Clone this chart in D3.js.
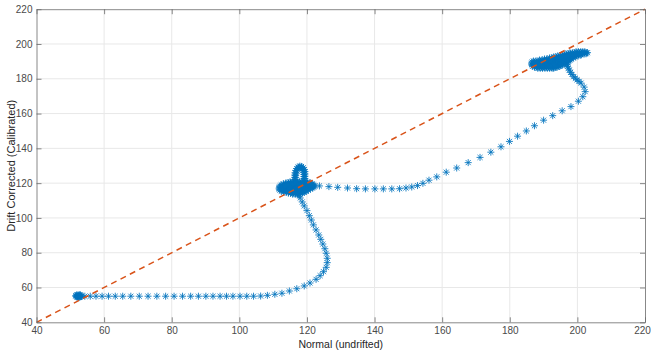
<!DOCTYPE html>
<html>
<head>
<meta charset="utf-8">
<script src="https://cdn.jsdelivr.net/npm/d3@7"></script>
<style>
  body { margin: 0; background: #fff; }
  svg { display: block; }
  text { font-family: "Liberation Sans", Arial, Helvetica, sans-serif; }
</style>
</head>
<body>
<svg id="chart" width="651" height="352"></svg>
<script>
// ---- axis ticks ----
const xTicks = [40, 60, 80, 100, 120, 140, 160, 180, 200, 220];
const yTicks = [40, 60, 80, 100, 120, 140, 160, 180, 200, 220];
const xLabel = "Normal (undrifted)";
const yLabel = "Drift Corrected (Calibrated)";

// ---- measurements: [normal, drift corrected] ----
// settled readings at the low level, by row: [corrected, [normal values]]
const startClusterRows = [
  [54.3, [52.0, 52.4, 52.8]],
  [54.8, [51.7, 52.1, 52.5, 52.9, 53.3]],
  [55.3, [51.6, 52.0, 52.4, 52.8, 53.2]],
  [55.8, [51.9, 52.3, 52.7, 53.0]]
];
// normal value ramps while the corrected value holds
const lowPlateau = [
  [54.3, 55.0], [55.9, 55.0], [57.6, 55.0], [59.4, 55.0], [61.3, 55.0], [63.3, 55.0],
  [65.5, 55.0], [67.9, 55.0], [70.4, 55.0], [73.0, 55.0], [75.6, 55.0], [78.2, 55.0],
  [80.7, 55.0], [83.2, 55.0], [85.6, 55.0], [87.9, 55.0], [90.1, 55.0], [92.2, 55.0],
  [94.3, 55.0], [96.2, 55.0], [98.1, 55.0], [100.2, 55.0], [102.2, 55.0], [104.2, 55.0],
  [106.3, 55.1], [108.3, 55.5], [110.5, 56.1], [112.6, 56.7]
];
// overshoot and recovery towards the middle level
const riseCurve = [
  [114.8, 58.0], [117.0, 59.3], [119.2, 60.9], [120.9, 62.6], [122.7, 64.7], [123.9, 66.8],
  [124.9, 69.1], [125.7, 71.6], [126.0, 74.3], [126.0, 76.8], [125.7, 79.7], [125.3, 82.3],
  [124.7, 85.0], [124.1, 87.7], [123.5, 90.2], [122.7, 93.1], [121.9, 96.0], [121.3, 98.8],
  [120.7, 101.3], [120.0, 104.2], [119.2, 106.9], [118.6, 109.2], [118.0, 111.5], [117.5, 113.3]
];
// settled readings at the middle level, by row
const midClusterRows = [
  [113.6, [115.8, 116.5, 117.2, 117.8]],
  [114.2, [114.5, 115.2, 115.9, 116.6, 117.3, 118.0, 118.6]],
  [114.8, [113.2, 113.9, 114.6, 115.3, 116.0, 116.7, 117.4, 118.1, 118.8, 119.2]],
  [115.4, [112.4, 113.1, 113.8, 114.5, 115.2, 115.9, 116.6, 117.3, 118.0, 118.7, 119.4, 119.8]],
  [116.0, [112.0, 112.7, 113.4, 114.1, 114.8, 115.5, 116.2, 116.9, 117.6, 118.3, 119.0, 119.7, 120.4]],
  [116.6, [111.8, 112.5, 113.2, 113.9, 114.6, 115.3, 116.0, 116.7, 117.4, 118.1, 118.8, 119.5, 120.2, 121.0]],
  [117.2, [111.8, 112.5, 113.2, 113.9, 114.6, 115.3, 116.0, 116.7, 117.4, 118.1, 118.8, 119.5, 120.2, 120.9, 121.6]],
  [117.8, [111.9, 112.6, 113.3, 114.0, 114.7, 115.4, 116.1, 116.8, 117.5, 118.2, 118.9, 119.6, 120.3, 121.0, 121.7, 122.0]],
  [118.4, [112.1, 112.8, 113.5, 114.2, 114.9, 115.6, 116.3, 117.0, 117.7, 118.4, 119.1, 119.8, 120.5, 121.2, 121.9, 122.2]],
  [119.0, [112.4, 113.1, 113.8, 114.5, 115.2, 115.9, 116.6, 117.3, 118.0, 118.7, 119.4, 120.1, 120.8, 121.5, 122.0]],
  [119.6, [113.0, 113.7, 114.4, 115.1, 115.8, 116.5, 117.2, 117.9, 118.6, 119.3, 120.0, 120.7, 121.6]],
  [120.2, [113.8, 114.5, 115.2, 115.9, 116.6, 117.3, 118.0, 118.7, 119.4, 120.1, 121.0]],
  [120.8, [115.0, 115.7, 116.4, 117.1, 117.8, 118.5, 119.2, 120.0]]
];
// brief excursion above the middle level
const midLoop = [
  [116.6, 121.0], [116.6, 122.2], [116.7, 123.4], [116.7, 124.6], [116.8, 125.8], [117.0, 127.0],
  [117.2, 128.0], [117.5, 128.8], [117.9, 129.2], [118.3, 129.0], [118.7, 128.3], [118.9, 127.3],
  [119.0, 126.2], [119.1, 125.0], [119.1, 123.8], [119.1, 122.6], [119.1, 121.4],
  [116.3, 122.0], [116.4, 123.3], [116.4, 124.6], [116.5, 125.9], [116.7, 127.2], [117.0, 128.4],
  [117.4, 129.3], [117.9, 129.8], [118.4, 129.6], [118.9, 128.9], [119.2, 127.8], [119.4, 126.6],
  [119.4, 125.3], [119.4, 124.0], [119.4, 122.7]
];
// climb from the middle level to the high level
const climb = [
  [123.7, 118.4], [126.5, 118.0], [129.1, 117.6], [132.0, 117.2], [134.7, 116.8], [137.3, 116.7],
  [140.1, 116.7], [142.6, 116.7], [145.1, 116.7], [147.4, 116.8], [149.3, 117.2], [151.0, 117.8],
  [152.7, 118.6], [154.3, 119.9], [156.1, 121.7], [158.4, 123.6], [161.2, 126.3], [164.3, 128.7],
  [167.7, 131.8], [171.2, 134.8], [174.4, 137.8], [177.4, 140.9], [179.9, 144.0], [182.3, 147.0],
  [184.9, 150.0], [187.3, 153.0], [190.0, 156.2], [192.7, 158.8], [195.5, 161.6], [198.1, 164.0],
  [200.3, 167.1], [201.6, 169.7], [202.3, 172.6], [202.0, 175.2], [201.1, 177.5], [199.9, 179.4],
  [198.9, 181.2], [198.0, 183.7], [197.3, 186.1], [197.0, 188.4],
  [200.5, 178.5], [199.4, 180.3], [198.4, 182.5], [197.6, 185.0], [197.1, 187.2], [196.8, 189.5]
];
// settled readings at the high level, by row
const endClusterRows = [
  [186.0, [188.3, 189.0, 189.7, 190.4, 191.1, 191.8, 192.5, 193.0]],
  [186.6, [187.3, 188.0, 188.7, 189.4, 190.1, 190.8, 191.5, 192.2, 192.9, 193.6, 194.0]],
  [187.2, [186.8, 187.5, 188.2, 188.9, 189.6, 190.3, 191.0, 191.7, 192.4, 193.1, 193.8, 194.5, 194.8]],
  [187.8, [186.6, 187.3, 188.0, 188.7, 189.4, 190.1, 190.8, 191.5, 192.2, 192.9, 193.6, 194.3, 195.0, 195.4]],
  [188.4, [186.5, 187.2, 187.9, 188.6, 189.3, 190.0, 190.7, 191.4, 192.1, 192.8, 193.5, 194.2, 194.9, 195.6, 196.0]],
  [189.0, [186.5, 187.2, 187.9, 188.6, 189.3, 190.0, 190.7, 191.4, 192.1, 192.8, 193.5, 194.2, 194.9, 195.6, 196.3, 196.5]],
  [189.6, [186.6, 187.3, 188.0, 188.7, 189.4, 190.1, 190.8, 191.5, 192.2, 192.9, 193.6, 194.3, 195.0, 195.7, 196.4, 197.0]],
  [190.2, [187.0, 187.7, 188.4, 189.1, 189.8, 190.5, 191.2, 191.9, 192.6, 193.3, 194.0, 194.7, 195.4, 196.1, 196.8, 197.4]],
  [190.8, [188.8, 189.5, 190.2, 190.9, 191.6, 192.3, 193.0, 193.7, 194.4, 195.1, 195.8, 196.5, 197.2, 197.8]],
  [191.4, [190.3, 191.0, 191.7, 192.4, 193.1, 193.8, 194.5, 195.2, 195.9, 196.6, 197.3, 198.0, 198.2]],
  [192.0, [191.8, 192.5, 193.2, 193.9, 194.6, 195.3, 196.0, 196.7, 197.4, 198.1, 198.8]],
  [192.6, [193.0, 193.7, 194.4, 195.1, 195.8, 196.5, 197.2, 197.9, 198.6, 199.4]],
  [193.2, [194.2, 194.9, 195.6, 196.3, 197.0, 197.7, 198.4, 199.1, 199.8, 200.2]],
  [193.8, [195.4, 196.1, 196.8, 197.5, 198.2, 198.9, 199.6, 200.3, 201.0, 201.2]],
  [194.4, [196.6, 197.3, 198.0, 198.7, 199.4, 200.1, 200.8, 201.5, 202.2, 202.6]],
  [195.0, [197.8, 198.5, 199.2, 199.9, 200.6, 201.3, 202.0, 202.6, 203.0]],
  [195.6, [199.6, 200.3, 201.0, 201.6, 202.2]]
];
// identity reference line
const identityLine = [[40, 40], [220, 220]];

// expand row tables into [normal, corrected] pairs
const fromRows = rows => rows.flatMap(([yv, xs]) => xs.map(xv => [xv, yv]));
const readings = [].concat(
  fromRows(startClusterRows), lowPlateau, riseCurve,
  fromRows(midClusterRows), midLoop, climb, fromRows(endClusterRows)
);

// ---- layout ----
const W = 651, H = 352;
const margin = { left: 36.5, right: 6, top: 9.2, bottom: 29.7 };
const svg = d3.select("#chart");

const x = d3.scaleLinear().domain([40, 220]).range([margin.left, W - margin.right]);
const y = d3.scaleLinear().domain([40, 220]).range([H - margin.bottom, margin.top]);

const axisColor = "#6a6a6a";
const labelColor = "#4a4a4a";

// grid
const grid = svg.append("g").attr("stroke", "#e8e8e8").attr("stroke-width", 1);
grid.selectAll("line.gx").data(xTicks.slice(1, -1)).join("line")
  .attr("x1", d => x(d)).attr("x2", d => x(d))
  .attr("y1", y(40)).attr("y2", y(220));
grid.selectAll("line.gy").data(yTicks.slice(1, -1)).join("line")
  .attr("y1", d => y(d)).attr("y2", d => y(d))
  .attr("x1", x(40)).attr("x2", x(220));

// asterisk marker as a custom d3 symbol type
const asterisk = {
  draw(ctx, size) {
    const r = Math.sqrt(size) / 2;
    const d = r * 0.72;
    ctx.moveTo(-r, 0); ctx.lineTo(r, 0);
    ctx.moveTo(0, -r); ctx.lineTo(0, r);
    ctx.moveTo(-d, -d); ctx.lineTo(d, d);
    ctx.moveTo(-d, d); ctx.lineTo(d, -d);
  }
};
const marker = d3.symbol().type(asterisk).size(49);

svg.append("g")
  .attr("fill", "none")
  .attr("stroke", "#0072BD")
  .attr("stroke-width", 0.85)
  .selectAll("path").data(readings).join("path")
  .attr("transform", d => `translate(${x(d[0])},${y(d[1])})`)
  .attr("d", marker);

// identity line
svg.append("path")
  .datum(identityLine)
  .attr("fill", "none")
  .attr("stroke", "#D95319")
  .attr("stroke-width", 1.5)
  .attr("stroke-dasharray", "6,4.5")
  .attr("d", d3.line().x(d => x(d[0])).y(d => y(d[1])));

// axes with inward ticks on all four sides
function styleAxis(g) {
  g.select(".domain").attr("stroke", axisColor).attr("stroke-width", 0.8);
  g.selectAll(".tick line").attr("stroke", axisColor).attr("stroke-width", 0.8);
  g.selectAll(".tick text").attr("fill", labelColor).attr("font-size", 10)
    .attr("font-family", '"Liberation Sans", Arial, Helvetica, sans-serif');
}
const fmt = d3.format("d");
const xAxisG = svg.append("g").attr("transform", `translate(0,${y(40)})`)
  .call(d3.axisBottom(x).tickValues(xTicks).tickFormat(fmt).tickSizeInner(-5).tickSizeOuter(0).tickPadding(5))
  .call(styleAxis);
// keep the last tick label inside the canvas
xAxisG.selectAll(".tick text").filter(d => d === 220).attr("dx", -3);

svg.append("g").attr("transform", `translate(0,${y(220)})`)
  .call(d3.axisTop(x).tickValues(xTicks).tickFormat("").tickSizeInner(-5).tickSizeOuter(0))
  .call(styleAxis);
svg.append("g").attr("transform", `translate(${x(40)},0)`)
  .call(d3.axisLeft(y).tickValues(yTicks).tickFormat(fmt).tickSizeInner(-5).tickSizeOuter(0).tickPadding(4))
  .call(styleAxis);
svg.append("g").attr("transform", `translate(${x(220)},0)`)
  .call(d3.axisRight(y).tickValues(yTicks).tickFormat("").tickSizeInner(-5).tickSizeOuter(0))
  .call(styleAxis);

// axis titles
svg.append("text")
  .attr("x", (x(40) + x(220)) / 2).attr("y", H - 4.5)
  .attr("text-anchor", "middle").attr("font-size", 10.5).attr("fill", "#262626")
  .text(xLabel);
svg.append("text")
  .attr("transform", `translate(14.5,${(y(40) + y(220)) / 2}) rotate(-90)`)
  .attr("text-anchor", "middle").attr("font-size", 11).attr("fill", "#262626")
  .text(yLabel);
</script>
</body>
</html>
